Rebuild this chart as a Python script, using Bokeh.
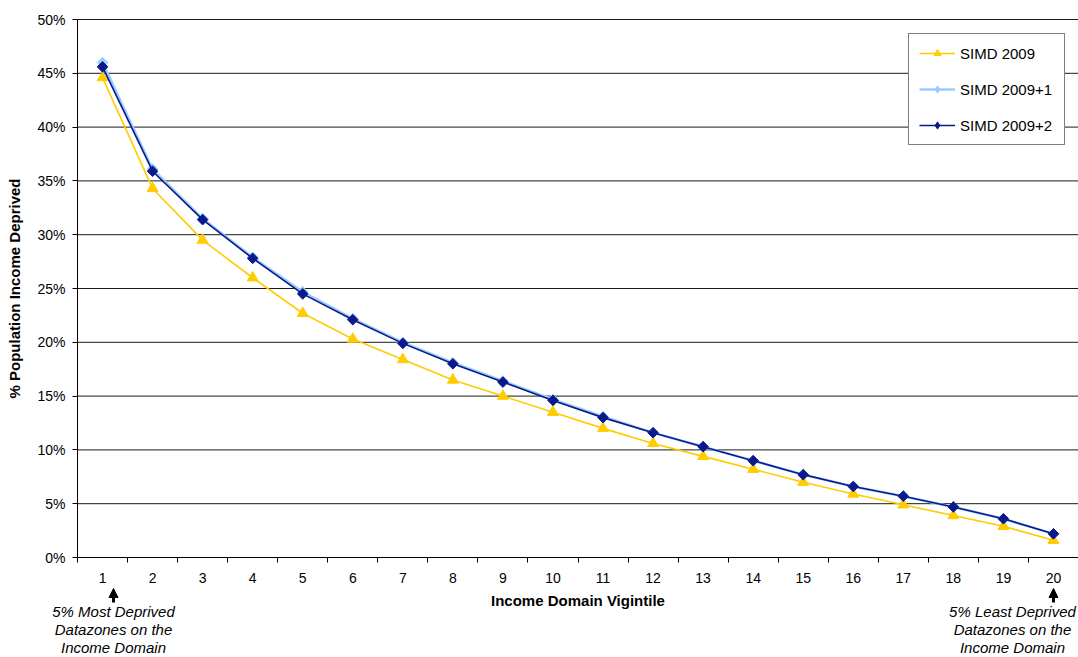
import math
from bokeh.plotting import figure
from bokeh.models import (FixedTicker, NumeralTickFormatter, Legend, LegendItem, Label,
                          Arrow, NormalHead, Range1d)
from bokeh.embed import file_html
from bokeh.resources import INLINE

vigintile = list(range(1, 21))
simd_2009 = [0.446, 0.343, 0.295, 0.260, 0.227, 0.203, 0.184, 0.165, 0.150, 0.135,
             0.120, 0.106, 0.094, 0.082, 0.070, 0.059, 0.049, 0.039, 0.029, 0.016]
simd_2009_1 = [0.460, 0.361, 0.315, 0.279, 0.247, 0.222, 0.200, 0.181, 0.164, 0.147,
               0.131, 0.116, 0.103, 0.090, 0.077, 0.066, 0.057, 0.047, 0.036, 0.022]
simd_2009_2 = [0.456, 0.359, 0.314, 0.278, 0.245, 0.221, 0.199, 0.180, 0.163, 0.146,
               0.130, 0.116, 0.103, 0.090, 0.077, 0.066, 0.057, 0.047, 0.036, 0.022]
y_ticks = [0.0, 0.05, 0.10, 0.15, 0.20, 0.25, 0.30, 0.35, 0.40, 0.45, 0.50]
series_names = ["SIMD 2009", "SIMD 2009+1", "SIMD 2009+2"]
note_left = "5% Most Deprived\nDatazones on the\nIncome Domain"
note_right = "5% Least Deprived\nDatazones on the\nIncome Domain"
x_title = "Income Domain Vigintile"
y_title = "% Population Income Deprived"

FONT = "Liberation Sans"
YELLOW = "#FFCC00"
LIGHT = "#99CCFF"
NAVY = "#0A1A8C"

W, H = 1078, 657
LEFT, TOP, BOTTOM = 77, 19, 100          # pixel margins around the data area
x_lo, x_hi = vigintile[0] - 0.5, vigintile[-1] + 0.5
y_lo, y_hi = y_ticks[0], y_ticks[-1]
xpx = (x_hi - x_lo) / (W - LEFT)         # data units per pixel
ypx = (y_hi - y_lo) / (H - TOP - BOTTOM)

p = figure(frame_width=W, frame_height=H, output_backend="svg", toolbar_location=None,
           x_range=Range1d(x_lo - LEFT * xpx, x_hi),
           y_range=Range1d(y_lo - BOTTOM * ypx, y_hi + TOP * ypx),
           min_border_left=0, min_border_right=0, min_border_top=0, min_border_bottom=0)
p.outline_line_color = None
p.background_fill_color = "white"
p.border_fill_color = "white"
p.xgrid.grid_line_color = None
p.ygrid.grid_line_color = None

# axes (fixed inside the frame)
p.xaxis.fixed_location = y_lo
p.xaxis.bounds = (x_lo, x_hi)
p.xaxis.ticker = FixedTicker(ticks=vigintile, minor_ticks=[v - 0.5 for v in vigintile] + [x_hi])
p.xaxis.major_tick_out = 0
p.xaxis.major_tick_in = 0
p.xaxis.minor_tick_out = 5
p.xaxis.minor_tick_in = 0
p.xaxis.minor_tick_line_color = "black"
p.xaxis.major_label_standoff = 10
p.xaxis.axis_label = x_title
p.xaxis.axis_label_standoff = 6

p.yaxis.fixed_location = x_lo
p.yaxis.bounds = (y_lo, y_hi)
p.yaxis.ticker = FixedTicker(ticks=y_ticks)
p.yaxis.formatter = NumeralTickFormatter(format="0%")
p.yaxis.major_tick_out = 5
p.yaxis.major_tick_in = 0
p.yaxis.minor_tick_out = 0
p.yaxis.minor_tick_in = 0
p.yaxis.major_label_standoff = 7
p.yaxis.axis_label = y_title
p.yaxis.axis_label_standoff = 11

for ax in (p.xaxis, p.yaxis):
    ax.axis_line_color = "black"
    ax.major_tick_line_color = "black"
    ax.major_label_text_font = FONT
    ax.major_label_text_font_size = "14px"
    ax.major_label_text_color = "black"
    ax.axis_label_text_font = FONT
    ax.axis_label_text_font_size = "15px"
    ax.axis_label_text_font_style = "bold"
    ax.axis_label_text_color = "black"

# horizontal gridlines across the data area
grid_y = y_ticks[1:]
p.segment(x0=[x_lo] * len(grid_y), x1=[x_hi] * len(grid_y), y0=grid_y, y1=grid_y,
          line_color="black", line_width=1, line_alpha=0.9)

# series
l1 = p.line(vigintile, simd_2009, line_color=YELLOW, line_width=1.6)
m1 = p.scatter(vigintile, simd_2009, marker="triangle", size=11, fill_color=YELLOW, line_color=YELLOW)
l2 = p.line(vigintile, simd_2009_1, line_color=LIGHT, line_width=2.5)
m2 = p.scatter(vigintile, simd_2009_1, marker="square", angle=math.pi / 4, size=7.5,
               fill_color=LIGHT, line_color=LIGHT)
l3 = p.line(vigintile, simd_2009_2, line_color=NAVY, line_width=1.6)
m3 = p.scatter(vigintile, simd_2009_2, marker="square", angle=math.pi / 4, size=7.5,
               fill_color=NAVY, line_color=NAVY)

# legend-only marker glyphs (not drawn on the chart: NaN positions)
nan = [float("nan")]
k1 = p.scatter(x=nan, y=nan, marker="triangle", size=9, fill_color=YELLOW, line_color=YELLOW)
k2 = p.scatter(x=nan, y=nan, marker="diamond", size=10, fill_color=LIGHT, line_color=LIGHT)
k3 = p.scatter(x=nan, y=nan, marker="diamond", size=10, fill_color=NAVY, line_color=NAVY)

legend = Legend(items=[LegendItem(label=series_names[0], renderers=[l1, k1]),
                       LegendItem(label=series_names[1], renderers=[l2, k2]),
                       LegendItem(label=series_names[2], renderers=[l3, k3])],
                location=(908, 512))
legend.label_text_font = FONT
legend.label_text_font_size = "15px"
legend.label_text_color = "black"
legend.border_line_color = "black"
legend.border_line_width = 1
legend.background_fill_color = "white"
legend.background_fill_alpha = 1
legend.padding = 10
legend.spacing = 18
legend.glyph_width = 36
legend.glyph_height = 18
legend.label_height = 18
legend.label_width = 94
legend.label_standoff = 5
legend.margin = 0
p.add_layout(legend)

# notes and arrows below the axis
left_x = vigintile[0] + 11 * xpx
right_x = vigintile[-1]
right_text_x = vigintile[-1] - 41 * xpx
for ax_x in (left_x, right_x):
    p.add_layout(Arrow(end=NormalHead(size=9, fill_color="black", line_color="black"),
                       x_start=ax_x, y_start=y_lo - 45 * ypx, x_end=ax_x, y_end=y_lo - 31 * ypx,
                       line_color="black", line_width=3))
for tx, txt in ((left_x, note_left), (right_text_x, note_right)):
    p.add_layout(Label(x=tx, y=y_lo - 45 * ypx, text=txt, text_align="center", text_baseline="top",
                       text_font=FONT, text_font_size="15px", text_font_style="italic",
                       text_color="black", text_line_height=1.07))

open("out.html", "w").write(file_html(p, INLINE))
